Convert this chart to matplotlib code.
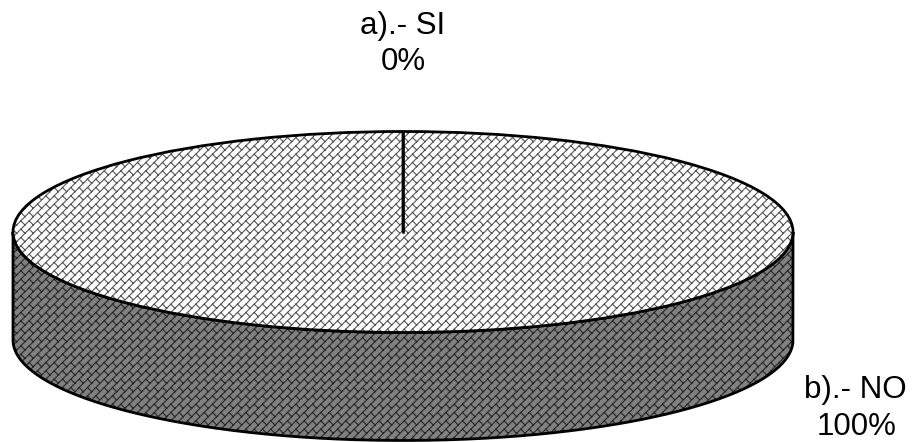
import numpy as np
import matplotlib
matplotlib.use("Agg")
import matplotlib.pyplot as plt
import matplotlib.hatch as mhatch
from matplotlib.path import Path
from matplotlib.patches import PathPatch

categories = ["a).- SI", "b).- NO"]
values = [0, 100]
percent_labels = ["0%", "100%"]


class DiagonalBrick(mhatch.HatchPatternBase):
    """Office-style diagonal brick: '/' rails with staggered '\\' ties."""
    def __init__(self, hatch, density):
        self.n = 12 if "B" in hatch else 0
        self.num_vertices = self.n * self.n * 4
        self.num_lines = self.n

    def set_vertices_and_codes(self, vertices, codes):
        n = self.n
        s = 1.0 / n
        verts = []
        for i in range(n):
            for j in range(n):
                x, y = i * s, j * s
                verts += [(x, y), (x + s, y + s)]
                verts += [(x + s / 2, y + s / 2), (x + s, y)]
        arr = np.array(verts)
        m = len(arr)
        vertices[:m] = arr
        codes[:m] = np.tile([Path.MOVETO, Path.LINETO], m // 2)


mhatch._hatch_types.append(DiagonalBrick)

plt.rcParams["hatch.linewidth"] = 0.8

W, H = 914, 442
fig = plt.figure(figsize=(W / 100, H / 100), dpi=100)
fig.patch.set_facecolor("white")
ax = fig.add_axes([0, 0, 1, 1])

wedges, _ = ax.pie(values, startangle=90, counterclock=False, radius=1.0,
                   center=(0, 0), frame=False)
ax.set_aspect("auto")
ax.set_xlim(-403 / 390, (W - 403) / 390)
ax.set_ylim(-(H - 232) / 100.5, 232 / 100.5)
ax.axis("off")

depth = 108 / 100.5
theta = np.linspace(np.pi, 2 * np.pi, 400)
xs = np.cos(theta)
ys = np.sin(theta)
side_v = np.vstack([np.column_stack([xs, ys]),
                    np.column_stack([xs[::-1], ys[::-1] - depth])])
side_path = Path(np.vstack([side_v, side_v[:1]]))
ax.add_patch(PathPatch(side_path, facecolor="#808080", edgecolor="#262626",
                       hatch="B", linewidth=0, zorder=1))
ax.add_patch(PathPatch(side_path, fill=False, edgecolor="black",
                       linewidth=2.0, zorder=1.5))

for w in wedges:
    w.set_facecolor("white")
    w.set_edgecolor("#555555")
    w.set_hatch("B")
    w.set_linewidth(0)
    w.set_zorder(2)
    ax.add_patch(PathPatch(w.get_path(), transform=w.get_transform(),
                           fill=False, edgecolor="black", linewidth=2.0,
                           zorder=2.5))

# Radial line of the 0% slice
ax.plot([0, 0], [0, 1], color="black", lw=1.8, zorder=3)

font = ["Liberation Sans"]
fs = 22.5
fig.text(403 / W, 1 - 26 / H, categories[0], ha="center", va="center", fontsize=fs, family=font)
fig.text(403 / W, 1 - 62 / H, percent_labels[0], ha="center", va="center", fontsize=fs, family=font)
fig.text(855 / W, 1 - 390 / H, categories[1], ha="center", va="center", fontsize=fs, family=font)
fig.text(857 / W, 1 - 427 / H, percent_labels[1], ha="center", va="center", fontsize=fs, family=font)

fig.savefig("out.png", dpi=100, facecolor="white")
